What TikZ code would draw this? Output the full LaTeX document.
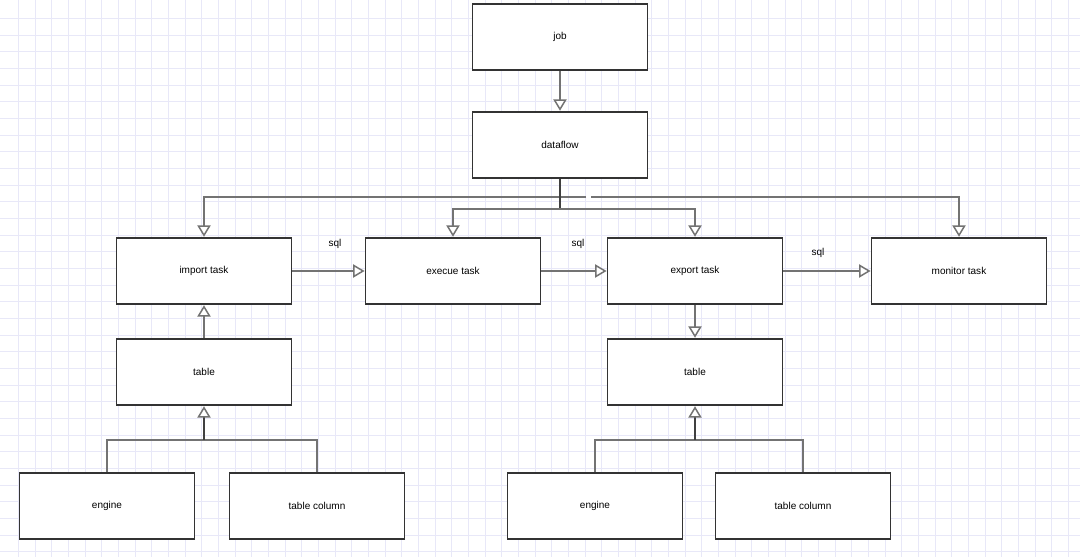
\documentclass[tikz,border=0pt]{standalone}
\usepackage{fontspec}
\setmainfont{Liberation Sans}
\usetikzlibrary{positioning,calc,arrows.meta}
\definecolor{gridc}{RGB}{232,232,248}

\begin{document}
\begin{tikzpicture}[
    x=0.02cm, y=-0.02cm,
    block/.style={rectangle, draw=black!80, line width=1.1pt, fill=white, minimum width=3.5cm, minimum height=1.33cm, font=\fontsize{5.7}{7}\selectfont},
    link/.style={draw=black!55, line width=0.85pt},
    stem/.style={draw=black!75, line width=1.1pt},
    arrow/.style={link, -{Triangle[open, length=6.5pt, width=7.5pt, fill=white, color=black!55, line width=0.85pt]}},
    lbl/.style={font=\fontsize{5.7}{7}\selectfont},
    gridline/.style={draw=gridc, line width=0.45pt}
]
    \useasboundingbox (0,0) rectangle (1080,557);
    \fill[white] (0,0) rectangle (1080,557);
    \foreach \gx in {0,...,64}
        \draw[gridline] ({18.3+16.67*\gx},0) -- ++(0,557);
    \foreach \gy in {0,...,33}
        \draw[gridline] (0,{18.3+16.67*\gy}) -- ++(1080,0);

    \node[block] (job) at (560, 37) {job};
    \node[block] (dataflow) at (560, 145) {dataflow};
    \node[block] (import) at (204, 271) {import task};
    \node[block] (execue) at (453, 271) {execue task};
    \node[block] (export) at (695, 271) {export task};
    \node[block] (monitor) at (959, 271) {monitor task};
    \node[block] (tabL) at (204, 372) {table};
    \node[block] (tabR) at (695, 372) {table};
    \node[block] (engL) at (107, 506) {engine};
    \node[block] (colL) at (317, 506) {table column};
    \node[block] (engR) at (595, 506) {engine};
    \node[block] (colR) at (803, 506) {table column};

    \coordinate (busB) at (560, 209);
    \coordinate (gapL) at (586, 197);
    \coordinate (gapR) at (591, 197);
    \coordinate (jL) at (204, 440);
    \coordinate (jR) at (695, 440);

    \draw[arrow] (job) -- (dataflow);
    \draw[arrow] (gapL) -| (import.north);
    \draw[arrow] (gapR) -| (monitor.north);
    \draw[stem] (dataflow.south) -- (busB);
    \draw[arrow] (busB) -| (execue.north);
    \draw[arrow] (busB) -| (export.north);

    \draw[arrow] (import) -- (execue);
    \draw[arrow] (execue) -- (export);
    \draw[arrow] (export) -- (monitor);
    \node[lbl] (sqlA) at (335, 244) {sql};
    \node[lbl] (sqlB) at (578, 244) {sql};
    \node[lbl] (sqlC) at (818, 253) {sql};

    \draw[arrow] (tabL) -- (import);
    \draw[arrow] (export) -- (tabR);

    \draw[link] (engL.north) |- (jL) -| (colL.north);
    \draw[arrow, stem] (jL) -- (tabL.south);
    \draw[link] (engR.north) |- (jR) -| (colR.north);
    \draw[arrow, stem] (jR) -- (tabR.south);

\end{tikzpicture}
\end{document}
